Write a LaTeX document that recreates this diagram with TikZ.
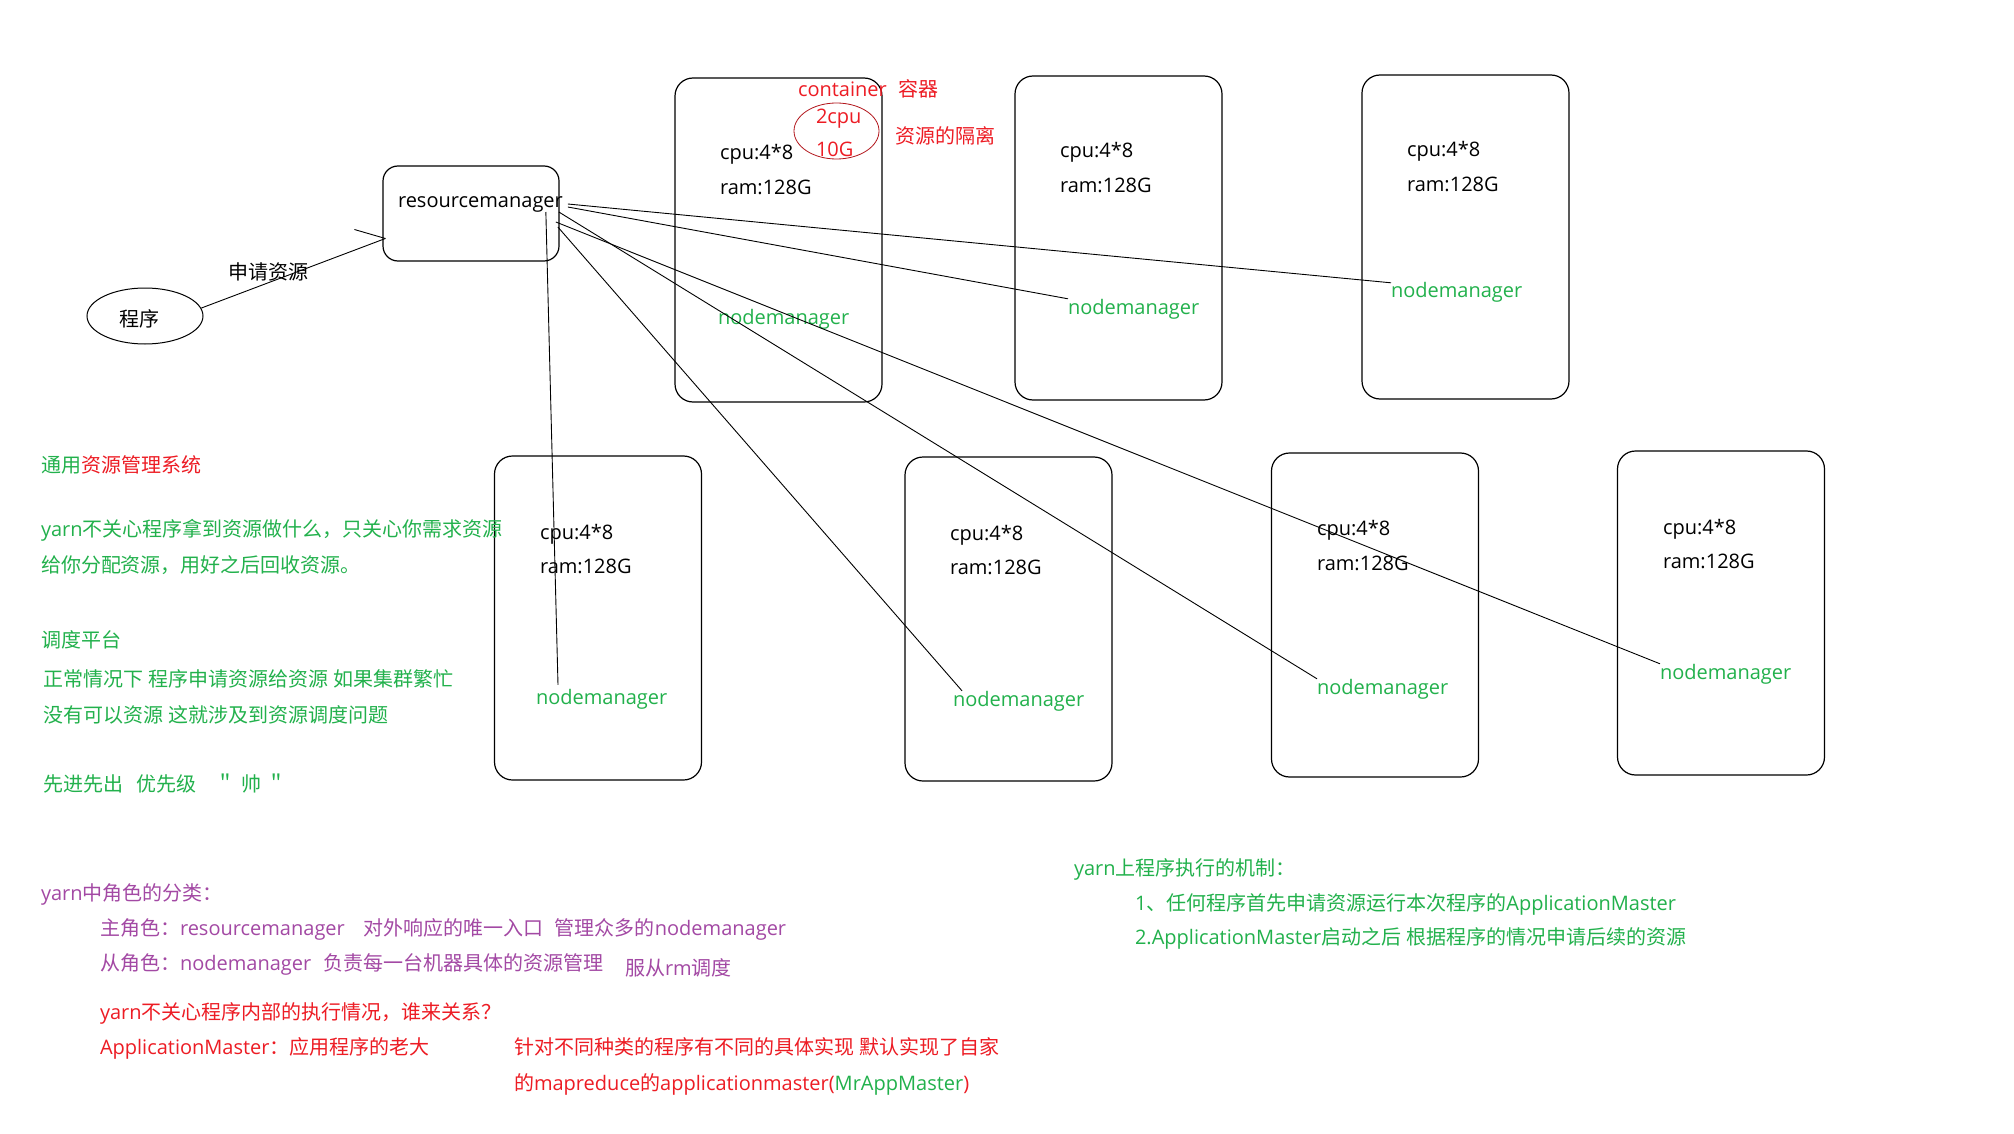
\documentclass[tikz,border=0pt]{standalone}
\usepackage{fontspec}
\setmainfont{Open Sans}
\newfontfamily\cjk{Noto Sans CJK SC}
\newcommand\zh[1]{{\cjk #1}}
\usetikzlibrary{calc,shapes.geometric}
\definecolor{mred}{HTML}{ED1C24}
\definecolor{mgreen}{HTML}{22B14C}
\definecolor{mpurple}{HTML}{A349A4}
\newcommand\fs{\fontsize{20pt}{24pt}\selectfont}
\begin{document}
\begin{tikzpicture}[x=1pt,y=-1pt,
  txt/.style={inner sep=0pt,outer sep=0pt,anchor=base west,font=\fs},
  box/.style={draw,line width=1.2pt,rounded corners=18pt,minimum width=207pt,minimum height=324pt,inner sep=0pt},
  link/.style={line width=0.9pt},
  nm/.style={txt,text=mgreen}]
\path[use as bounding box,fill=white] (0,0) rectangle (2014,1134);

% machine boxes
\node[box] (b1) at (778.5,240) {};
\node[box] (b2) at (1118.5,238) {};
\node[box] (b3) at (1465.5,237) {};
\node[box] (b4) at (598,618) {};
\node[box] (b5) at (1008.5,619) {};
\node[box] (b6) at (1375,615) {};
\node[box] (b7) at (1721,613) {};

% box contents
\node[txt] (c1) at (720,160) {cpu:4*8};
\node[txt] (r1) at (720,195) {ram:128G};
\node[nm] (nm1) at (718,324) {nodemanager};
\node[txt] (c2) at (1060,158) {cpu:4*8};
\node[txt] (r2) at (1060,193) {ram:128G};
\node[nm] (nm2) at (1068,314) {nodemanager};
\node[txt] (c3) at (1407,157) {cpu:4*8};
\node[txt] (r3) at (1407,192) {ram:128G};
\node[nm] (nm3) at (1391,298) {nodemanager};
\node[txt] (c4) at (540,539) {cpu:4*8};
\node[txt] (r4) at (540,573) {ram:128G};
\node[nm] (nm4) at (536,704) {nodemanager};
\node[txt] (c5) at (950,540) {cpu:4*8};
\node[txt] (r5) at (950,574) {ram:128G};
\node[nm] (nm5) at (953,706) {nodemanager};
\node[txt] (c6) at (1317,535) {cpu:4*8};
\node[txt] (r6) at (1317,570) {ram:128G};
\node[nm] (nm6) at (1317,694) {nodemanager};
\node[txt] (c7) at (1663,534) {cpu:4*8};
\node[txt] (r7) at (1663,568) {ram:128G};
\node[nm] (nm7) at (1660,679) {nodemanager};

% container annotation
\node[txt,text=mred] (ct) at (798,97) {container};
\node[txt,text=mred] (ctz) at (898,97) {\zh{容器}};
\node[draw=mred!75!black,ellipse,line width=0.8pt,minimum width=85pt,minimum height=56pt,inner sep=0pt] (cont) at (836.5,131) {};
\node[txt,text=mred] (cpu2) at (816,124) {2cpu};
\node[txt,text=mred] (g10) at (816,157) {10G};
\node[txt,text=mred] (iso) at (895,144) {\zh{资源的隔离}};

% resource manager and program
\node[draw,line width=1.2pt,rounded corners=15pt,minimum width=176pt,minimum height=95pt,inner sep=0pt] (rmbox) at (471,213.5) {};
\node[txt] (rm) at (398,208) {resourcemanager};
\node[draw,ellipse,line width=1pt,minimum width=116pt,minimum height=56pt,inner sep=0pt] (prog) at (145,316) {};
\node[font=\fs\cjk,inner sep=0pt] (progt) at (139,319) {程序};
\node[font=\fs\cjk,inner sep=0pt] (req) at (268,272) {申请资源};

\coordinate (rmin) at ($(rmbox.west)+(3,25)$);
\coordinate (tick) at ($(rmbox.west)+(-28,16)$);
\draw[link] (prog.8) -- (rmin);
\draw[link] (tick) -- (rmin);

% connectors from the resource manager
\coordinate (s3) at ($(rm.base east)+(5,-4)$);
\coordinate (s2) at ($(rm.base east)+(5,-1)$);
\coordinate (s6) at ($(rm.base east)+(-4,4)$);
\coordinate (s7) at ($(rm.base east)+(-7,14)$);
\coordinate (s5) at ($(rm.base east)+(-5,19)$);
\coordinate (s4) at ($(rm.base east)+(-17,4)$);
\draw[link] (s3) -- (nm3.north west);
\draw[link] (s2) -- (nm2.north west);
\draw[link] (s7) -- (nm7.north west);
\draw[link] (s6) -- (nm6.north west);
\draw[link] (s5) -- ($(nm5.north west)+(9,0)$);
\draw[link] (s4) -- ($(nm4.north west)+(22,-4)$);

% left notes
\node[txt] (t1) at (41,472) {\zh{\textcolor{mgreen}{通用}\textcolor{mred}{资源管理系统}}};
\node[txt,text=mgreen] (t2) at (41,536) {yarn\zh{不关心程序拿到资源做什么，只关心你需求资源}};
\node[txt,text=mgreen] (t3) at (41,572) {\zh{给你分配资源，用好之后回收资源。}};
\node[txt,text=mgreen] (t4) at (41,647) {\zh{调度平台}};
\node[txt,text=mgreen] (t5) at (43,686) {\zh{正常情况下} \zh{程序申请资源给资源} \zh{如果集群繁忙}};
\node[txt,text=mgreen] (t6) at (43,722) {\zh{没有可以资源} \zh{这就涉及到资源调度问题}};
\node[txt,text=mgreen] (t7) at (43,791) {\zh{先进先出}\hspace{13pt}\zh{优先级}\hspace{19pt}\zh{＂}\hspace{6pt}\zh{帅}\hspace{5pt}\zh{＂}};

% bottom notes
\node[txt,text=mpurple] (u1) at (41,900) {yarn\zh{中角色的分类：}};
\node[txt,text=mpurple] (u2) at (100,935) {\zh{主角色：}resourcemanager\hspace{19pt}\zh{对外响应的唯一入口}\hspace{11pt}\zh{管理众多的}nodemanager};
\node[txt,text=mpurple] (u3) at (100,970) {\zh{从角色：}nodemanager\hspace{12pt}\zh{负责每一台机器具体的资源管理}};
\node[txt,text=mpurple] (u4) at (625,975) {\zh{服从}rm\zh{调度}};
\node[txt,text=mred] (v1) at (100,1019) {yarn\zh{不关心程序内部的执行情况，谁来关系？}};
\node[txt,text=mred] (v2) at (100,1054) {ApplicationMaster\zh{：应用程序的老大}};
\node[txt,text=mred] (v3) at (514,1054) {\zh{针对不同种类的程序有不同的具体实现} \zh{默认实现了自家}};
\node[txt,text=mred] (v4) at (514,1090) {\zh{的}mapreduce\zh{的}applicationmaster(\textcolor{mgreen}{MrAppMaster})};

% right notes
\node[txt,text=mgreen] (w1) at (1074,875) {yarn\zh{上程序执行的机制：}};
\node[txt,text=mgreen] (w2) at (1135,910) {1\zh{、任何程序首先申请资源运行本次程序的}ApplicationMaster};
\node[txt,text=mgreen] (w3) at (1135,944) {2.ApplicationMaster\zh{启动之后} \zh{根据程序的情况申请后续的资源}};
\end{tikzpicture}
\end{document}
